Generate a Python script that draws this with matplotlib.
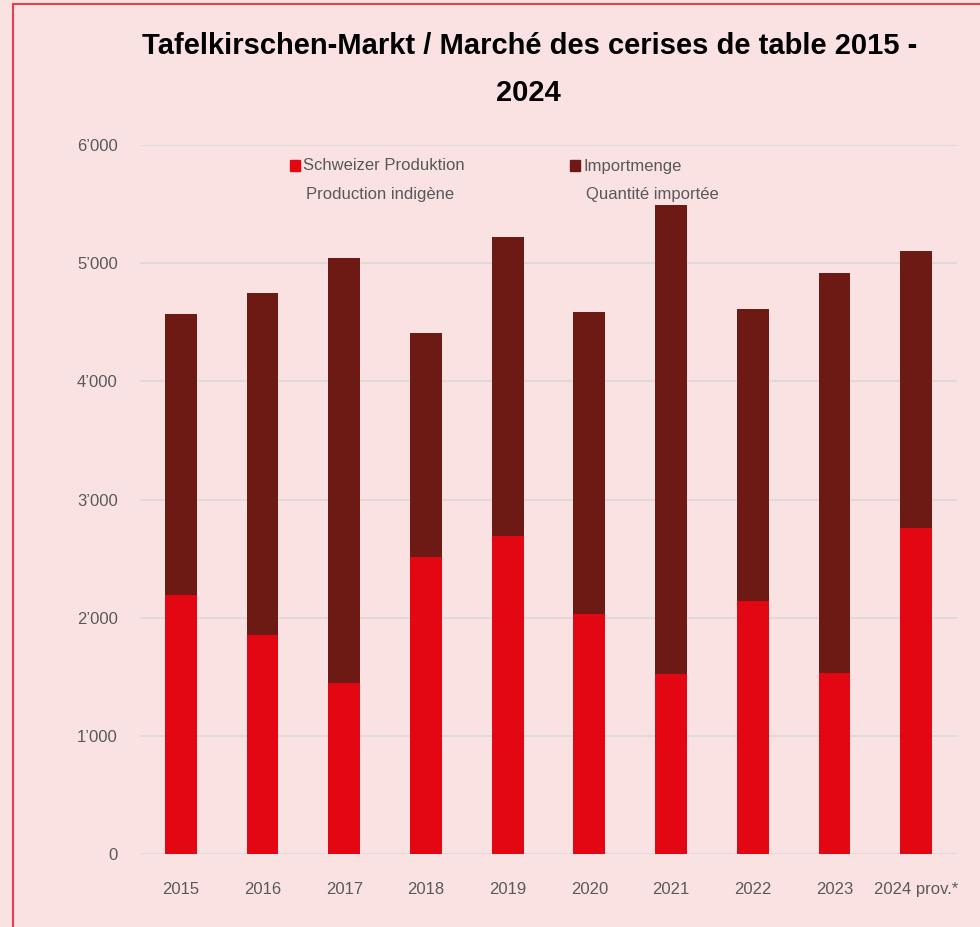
import matplotlib
matplotlib.use("Agg")
import matplotlib.pyplot as plt
from matplotlib.patches import Rectangle
from matplotlib.ticker import FixedLocator
import matplotlib.font_manager as fm

years = ["2015", "2016", "2017", "2018", "2019", "2020", "2021", "2022", "2023", "2024 prov.*"]
swiss_production = [2192, 1853, 1450, 2516, 2694, 2034, 1521, 2141, 1529, 2756]
total_market = [4570, 4745, 5041, 4412, 5224, 4584, 5495, 4609, 4914, 5105]
imports = [t - s for t, s in zip(total_market, swiss_production)]
yticks = [0, 1000, 2000, 3000, 4000, 5000, 6000]
ytick_labels = ["0", "1\u2019000", "2\u2019000", "3\u2019000", "4\u2019000", "5\u2019000", "6\u2019000"]

names = {f.name for f in fm.fontManager.ttflist}
narrow = "Liberation Sans Narrow" if "Liberation Sans Narrow" in names else "Liberation Sans"
plt.rcParams['font.family'] = [narrow, 'DejaVu Sans']

BG = "#FAE2E2"
RED = "#E30613"
DARK = "#6E1A14"
GRAY = "#595959"

fig = plt.figure(figsize=(9.8, 9.27), dpi=100, facecolor=BG)
ax = fig.add_axes([140/980, 73/927, 817/980, 709/927], facecolor=BG)

x = list(range(len(years)))
ax.bar(x, swiss_production, width=0.39, color=RED, zorder=3)
ax.bar(x, imports, bottom=swiss_production, width=0.39, color=DARK, zorder=3)

ax.set_xlim(-0.5, len(years) - 0.5)
ax.set_ylim(0, 6000)
ax.yaxis.set_major_locator(FixedLocator(yticks))
ax.set_yticklabels(ytick_labels)
ax.set_xticks(x)
ax.set_xticklabels(years)
ax.grid(axis='y', color="#DDDADA", linewidth=1.3, zorder=0)
for s in ax.spines.values():
    s.set_visible(False)
ax.tick_params(axis='both', length=0, colors=GRAY, labelsize=12)
ax.tick_params(axis='y', pad=16)
ax.tick_params(axis='x', pad=20)

fig.text(530/980, 1 - 46/927, "Tafelkirschen-Markt / Marché des cerises de table 2015 -",
         ha='center', va='center', fontsize=21, fontweight='bold', color='black')
fig.text(528/980, 1 - 93/927, "2024", ha='center', va='center', fontsize=21,
         fontweight='bold', color='black')

# legend
for (lx, col, l1, l2) in [(290, RED, "Schweizer Produktion", "Production indigène"),
                           (570, DARK, "Importmenge", "Quantité importée")]:
    fig.patches.append(Rectangle((lx/980, 1 - 171/927), 10/980, 11/927,
                                 transform=fig.transFigure, color=col))
    fig.text((lx + 13)/980, 1 - 166/927, l1, ha='left', va='center', fontsize=12, color=GRAY)
    fig.text((lx + 16)/980, 1 - 195/927, l2, ha='left', va='center', fontsize=12, color=GRAY)

# border (top and left)
fig.add_artist(plt.Line2D([13/980, 1], [1 - 4/927, 1 - 4/927], transform=fig.transFigure,
                          color="#E8404A", linewidth=1.5))
fig.add_artist(plt.Line2D([13/980, 13/980], [0, 1 - 4/927], transform=fig.transFigure,
                          color="#E8404A", linewidth=1.5))

fig.savefig("out.png", dpi=100, facecolor=BG)
